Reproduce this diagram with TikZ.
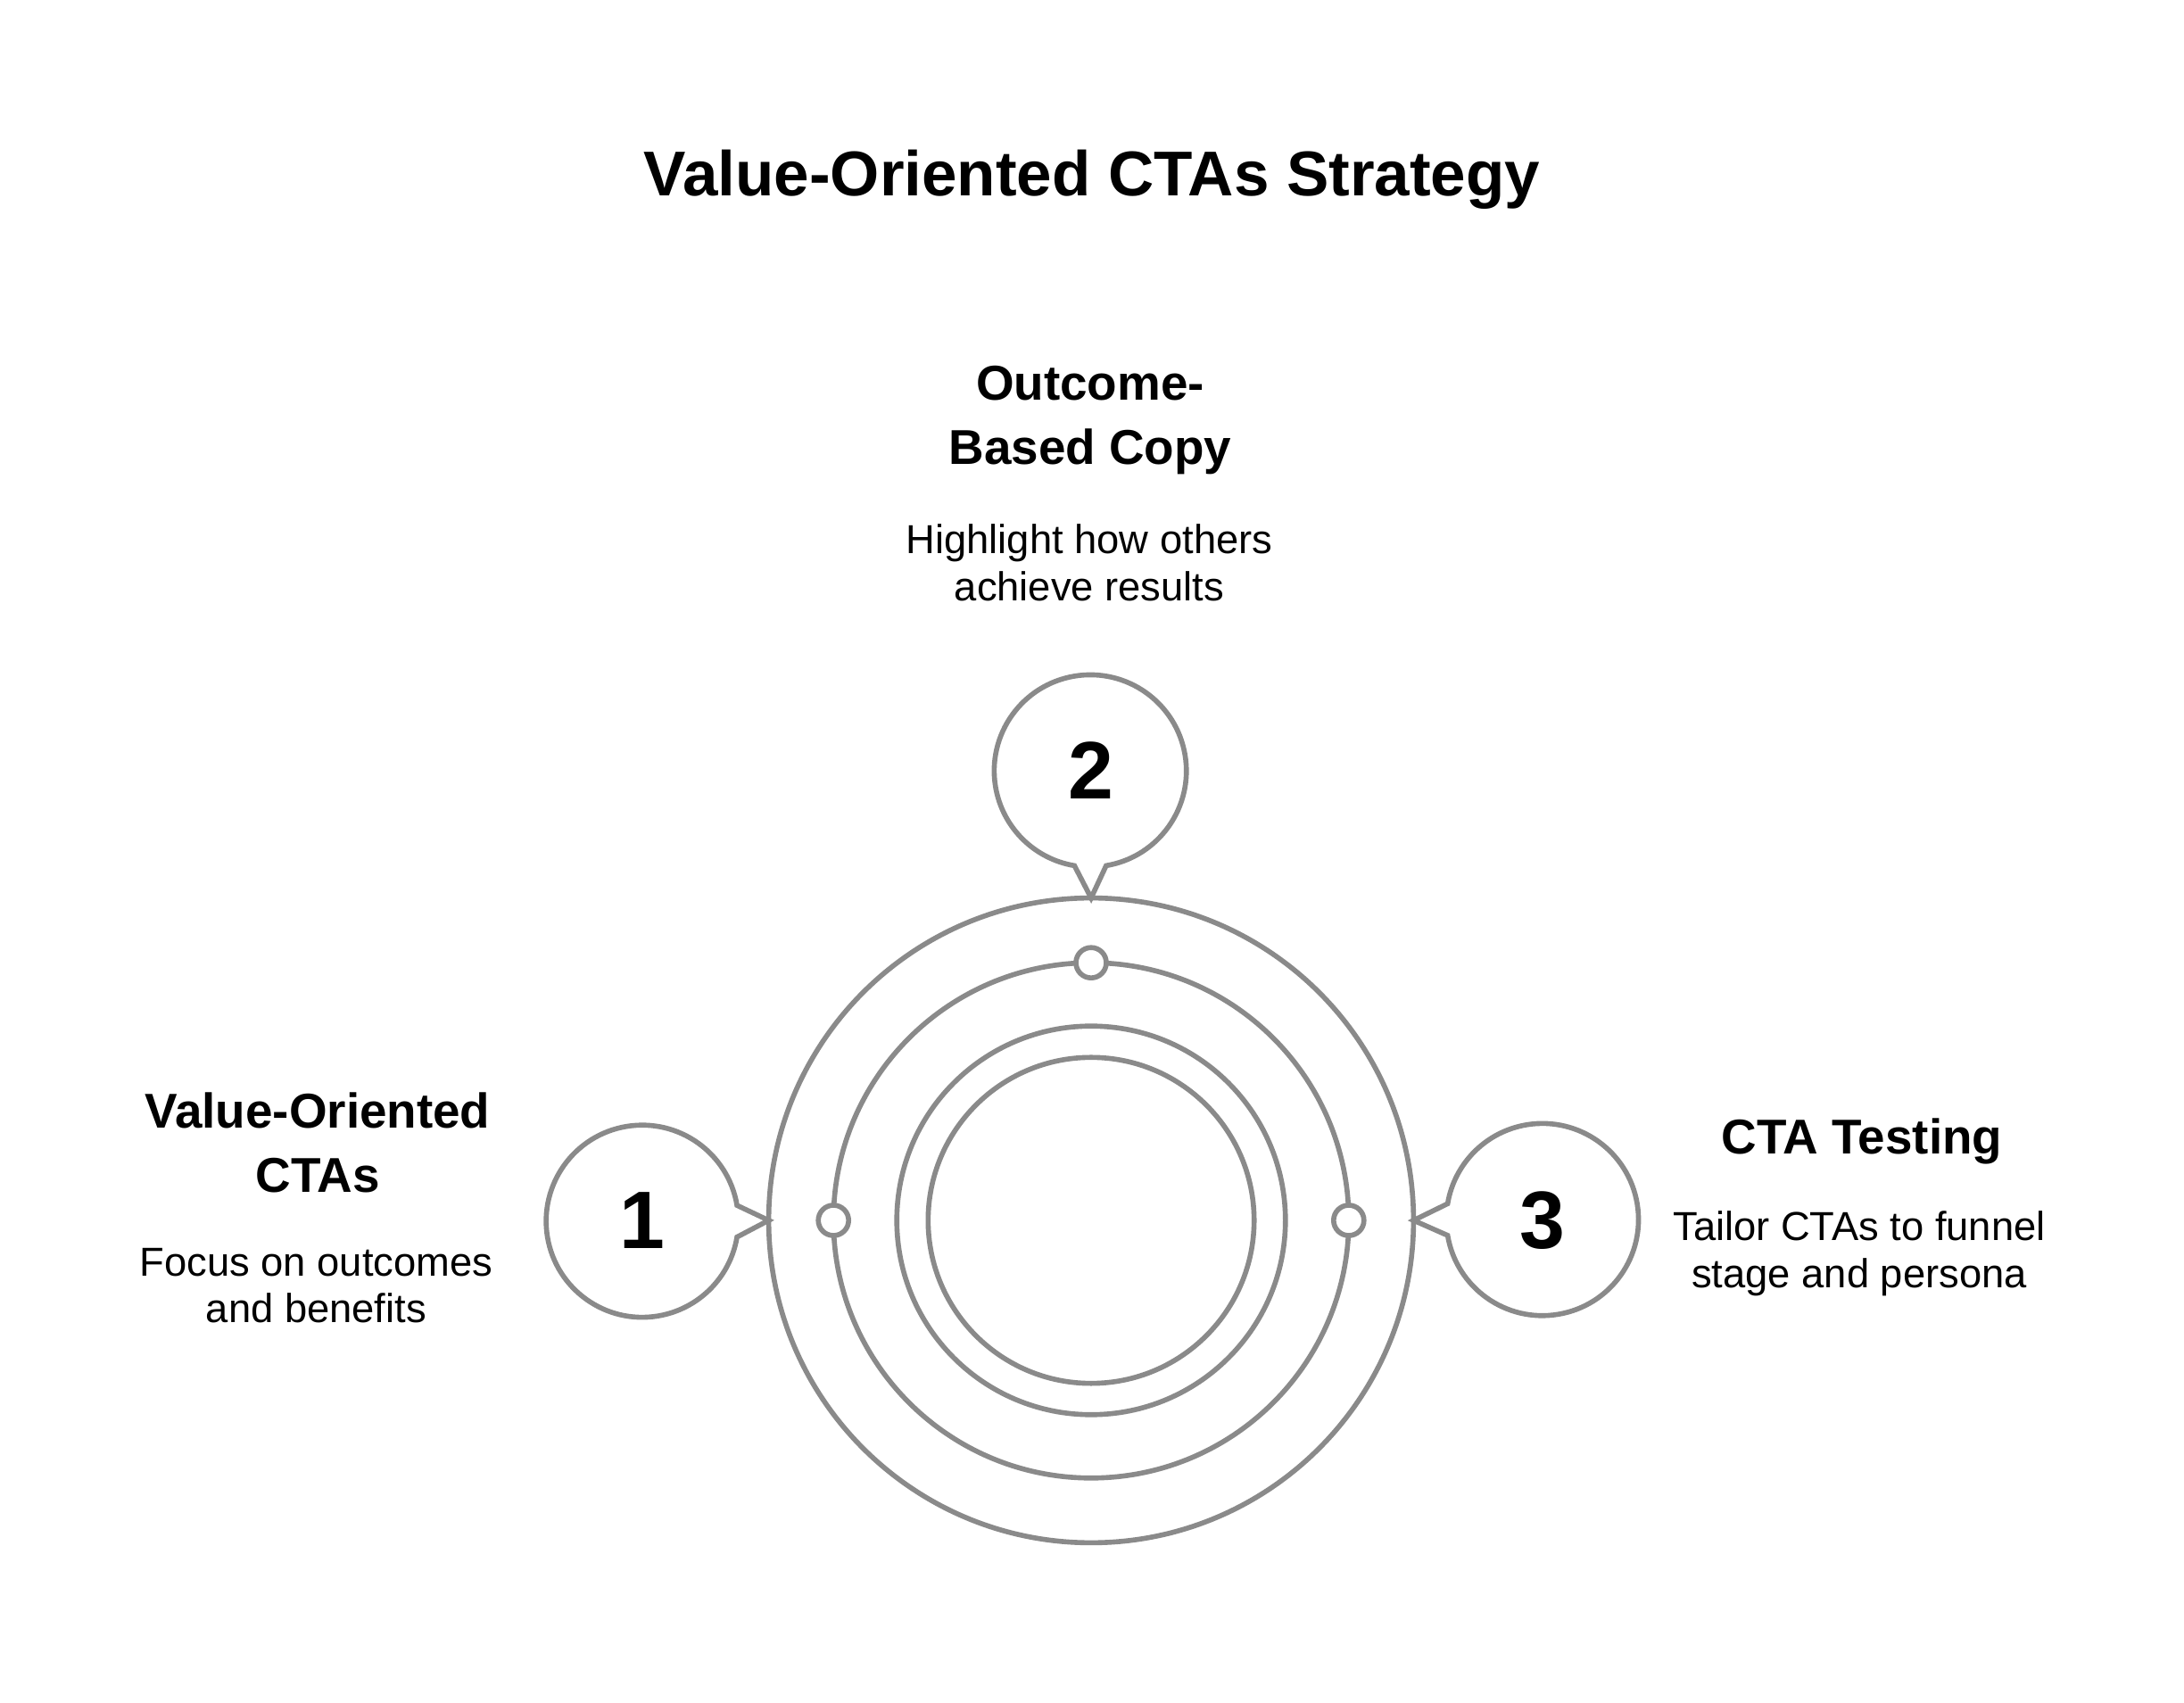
\documentclass[tikz,border=0pt]{standalone}
\usepackage{fontspec}
\setmainfont{Liberation Sans}
\definecolor{ringgray}{HTML}{8A8A8A}
\tikzset{
  ring/.style={circle,draw=ringgray,line width=1.6pt,inner sep=0pt,outer sep=0pt},
  knob/.style={circle,draw=ringgray,fill=white,line width=1.6pt,minimum size=0.34cm,inner sep=0pt},
  balloon/.style={draw=ringgray,line width=1.6pt,line join=miter},
  number/.style={circle,minimum size=2.154cm,inner sep=0pt,outer sep=0pt,font=\fontsize{26}{30}\selectfont\bfseries},
  heading/.style={align=center,font=\fontsize{15.6}{20.4}\selectfont\bfseries},
  desc/.style={align=center,font=\fontsize{12.9}{15}\selectfont},
}
\begin{document}
\begin{tikzpicture}

%% - Page and margins
%% - --------------------------------------
\fill[white] (0,0) rectangle (24.48,19.08);
\useasboundingbox (0,0) rectangle (24.48,19.08);

%% - Draw rings
%% - --------------------------------------
\node[ring,minimum size=7.228cm] (outer) at (12.23,5.40) {};
\node[ring,minimum size=5.776cm] (middle) at (12.23,5.40) {};
\node[ring,minimum size=4.356cm] (inner) at (12.23,5.40) {};
\node[ring,minimum size=3.654cm] (core) at (12.23,5.40) {};

%% - Knobs on the middle ring
%% - --------------------------------------
\node[knob] (knobl) at (middle.west) {};
\node[knob] (knobt) at (middle.north) {};
\node[knob] (knobr) at (middle.east) {};

%% - Number balloons
%% - --------------------------------------
\node[number] (one) at (7.197,5.40) {1};
\node[number] (two) at (12.23,10.44) {2};
\node[number] (three) at (17.29,5.40) {3};

\draw[balloon] (one.9.5) arc[start angle=9.5,end angle=350.5,radius=1.077cm] -- (outer.west) -- cycle;
\draw[balloon] (two.279.5) arc[start angle=279.5,end angle=620.5,radius=1.077cm] -- (outer.north) -- cycle;
\draw[balloon] (three.189.5) arc[start angle=189.5,end angle=530.5,radius=1.077cm] -- (outer.east) -- cycle;

%% - Draw Text
%% - --------------------------------------
\node[anchor=base,font=\fontsize{20.2}{24}\selectfont\bfseries] (title) at (12.24,16.88) {Value-Oriented CTAs Strategy};

\node[heading] (headtwo) at (12.22,14.37) {Outcome-\\Based Copy};
\node[desc] (desctwo) at (12.21,12.77) {Highlight how others\\achieve results};

\node[heading] (headone) at (3.56,6.27) {Value-Oriented\\CTAs};
\node[desc] (descone) at (3.544,4.67) {Focus on outcomes\\and benefits};

\node[heading] (headthree) at (20.87,6.29) {CTA Testing};
\node[desc] (descthree) at (20.84,5.03) {Tailor CTAs to funnel\\stage and persona};

\end{tikzpicture}
\end{document}
